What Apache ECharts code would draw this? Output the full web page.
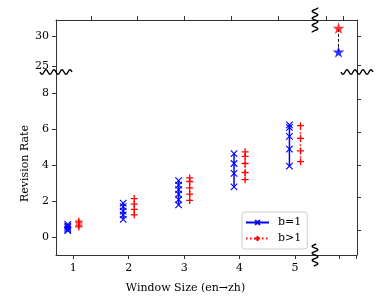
<!DOCTYPE html>
<html>
<head>
<meta charset="utf-8">
<script src="https://cdn.jsdelivr.net/npm/echarts@6/dist/echarts.min.js"></script>
<style>html,body{margin:0;padding:0;background:#fff}#c{width:376px;height:301px}</style>
</head>
<body>
<div id="c"></div>
<script>
// ---- data ----
const windowSizes = [1, 2, 3, 4, 5];
const b1Rates = [
  [0.38, 0.45, 0.55, 0.63, 0.72],
  [1.0, 1.25, 1.45, 1.7, 1.9],
  [1.8, 2.1, 2.4, 2.65, 2.9, 3.15],
  [2.8, 3.55, 4.1, 4.65],
  [3.95, 4.9, 5.6, 6.1, 6.25]
];
const bGt1Rates = [
  [0.58, 0.68, 0.8, 0.9],
  [1.25, 1.55, 1.85, 2.15],
  [2.05, 2.4, 2.75, 3.1, 3.3],
  [3.2, 3.6, 4.1, 4.5, 4.75],
  [4.2, 4.8, 5.5, 6.2]
];
const fullDocB1 = 27.45;
const fullDocBGt1 = 31.4;
const xTickLabels = [1, 2, 3, 4, 5];
const yTicksLow = [0, 2, 4, 6, 8];
const yTicksHigh = [25, 30];

// ---- style / layout ----
const FONT = 'DejaVu Serif';
const AX = '#333';
const X_PATH = 'path://M0,0L10,10M10,0L0,10';
const P_PATH = 'path://M5,0L5,10M0,5L10,5';
const STAR = 'path://M50,0L61,35L98,35L68,57L79,91L50,70L21,91L32,57L2,35L39,35Z';
const off = 0.1;
const xMin = 0.688, xMax = 5.361;
const lowMin = -0.98, lowMax = 9.18;
const highMin = 24.1, highMax = 32.74;
const starX = 0.56;

function axisBase(extra) {
  return Object.assign({
    type: 'value',
    splitLine: { show: false },
    axisLine: { show: true, onZero: false, lineStyle: { color: AX, width: 1 } },
    axisTick: { show: true, length: 4, lineStyle: { color: AX, width: 1 } },
    axisLabel: { show: false }
  }, extra);
}
function ticks(vals) {
  return { show: true, length: 4, lineStyle: { color: AX, width: 1 }, customValues: vals };
}
const labelStyle = { show: true, fontFamily: FONT, fontSize: 11, color: '#000' };

const series = [];
windowSizes.forEach((w, i) => {
  series.push({
    type: 'line', name: 'b=1', xAxisIndex: 2, yAxisIndex: 2,
    data: b1Rates[i].slice().sort((a, b) => a - b).map(v => [w - off, v]),
    symbol: X_PATH, symbolSize: 6.5, showAllSymbol: true,
    lineStyle: { color: '#0000ff', width: 1.5 },
    itemStyle: { color: '#0000ff', borderColor: '#0000ff', borderWidth: 1.1 },
    animation: false, z: 3
  });
  series.push({
    type: 'line', name: 'b>1', xAxisIndex: 2, yAxisIndex: 2,
    data: bGt1Rates[i].slice().sort((a, b) => a - b).map(v => [w + off, v]),
    symbol: P_PATH, symbolSize: 7, showAllSymbol: true,
    lineStyle: { color: '#ff0000', width: 1.5, type: [1.5, 2.5] },
    itemStyle: { color: '#ff0000', borderColor: '#ff0000', borderWidth: 1.3 },
    animation: false, z: 3
  });
});
series.push({
  type: 'line', name: 'full', xAxisIndex: 1, yAxisIndex: 1,
  data: [[starX, fullDocB1], [starX, fullDocBGt1]], symbol: 'none',
  lineStyle: { color: '#000', width: 1, type: [3, 2] }, animation: false, z: 2
});
series.push({
  type: 'scatter', name: 'fullB1', xAxisIndex: 1, yAxisIndex: 1,
  data: [[starX, fullDocB1]], symbol: STAR, symbolSize: 12,
  itemStyle: { color: '#0000ff' }, animation: false, z: 4
});
series.push({
  type: 'scatter', name: 'fullBGt1', xAxisIndex: 1, yAxisIndex: 1,
  data: [[starX, fullDocBGt1]], symbol: STAR, symbolSize: 12,
  itemStyle: { color: '#ff0000' }, animation: false, z: 4
});

function wave(cx, cy, len, amp, period, vertical) {
  const pts = [];
  const n = 60;
  for (let k = 0; k <= n; k++) {
    const t = -len / 2 + len * k / n;
    const d = amp * Math.sin(2 * Math.PI * t / period);
    pts.push(vertical ? [cx + d, cy + t] : [cx + t, cy + d]);
  }
  return { type: 'polyline', shape: { points: pts }, style: { stroke: '#000', lineWidth: 1.4, fill: null }, z: 100 };
}

const option = {
  animation: false,
  backgroundColor: '#fff',
  grid: [
    { left: 56, top: 20, width: 259, height: 52, outerBoundsMode: 'none' },
    { left: 315, top: 20, width: 42, height: 52, outerBoundsMode: 'none' },
    { left: 56, top: 72, width: 259, height: 183, outerBoundsMode: 'none' },
    { left: 315, top: 72, width: 42, height: 183, outerBoundsMode: 'none' }
  ],
  xAxis: [
    axisBase({ gridIndex: 0, position: 'top', min: xMin, max: xMax,
      axisTick: ticks([1.32, 2.16, 3.0, 3.85, 4.69]) }),
    axisBase({ gridIndex: 1, position: 'top', min: 0, max: 1,
      axisTick: ticks([0.262, 0.667]) }),
    axisBase({ gridIndex: 2, position: 'bottom', min: xMin, max: xMax,
      axisTick: ticks(xTickLabels),
      axisLabel: Object.assign({ customValues: xTickLabels, margin: 8 }, labelStyle),
      name: 'Window Size (en→zh)', nameLocation: 'middle', nameGap: 28,
      nameTextStyle: { fontFamily: FONT, fontSize: 11, color: '#000' } }),
    axisBase({ gridIndex: 3, position: 'bottom', min: 0, max: 1,
      axisTick: ticks([0.571, 0.976]) })
  ],
  yAxis: [
    axisBase({ gridIndex: 0, position: 'left', min: highMin, max: highMax,
      axisTick: ticks(yTicksHigh),
      axisLabel: Object.assign({ customValues: yTicksHigh, margin: 7 }, labelStyle) }),
    axisBase({ gridIndex: 1, position: 'right', min: highMin, max: highMax,
      axisTick: ticks([25.3, 30]) }),
    axisBase({ gridIndex: 2, position: 'left', min: lowMin, max: lowMax,
      axisTick: ticks(yTicksLow),
      axisLabel: Object.assign({ customValues: yTicksLow, margin: 7 }, labelStyle),
      name: 'Revision Rate', nameLocation: 'middle', nameGap: 25,
      nameTextStyle: { fontFamily: FONT, fontSize: 11, color: '#000' } }),
    axisBase({ gridIndex: 3, position: 'right', min: lowMin, max: lowMax,
      axisTick: ticks([0.37, 2.2, 4.02, 5.85, 7.67]) })
  ],
  legend: {
    data: ['b=1', 'b>1'],
    orient: 'vertical', left: 242, top: 212,
    itemWidth: 23, itemHeight: 6, itemGap: 3,
    padding: [4, 6, 4, 3],
    borderColor: '#ccc', borderWidth: 1, borderRadius: 3, backgroundColor: '#fff',
    textStyle: { fontFamily: FONT, fontSize: 11, color: '#000', lineHeight: 13, padding: [0, 0, 0, 4] }
  },
  graphic: [
    wave(56, 72, 32, 2.3, 8, false),
    wave(357, 72, 32, 2.3, 8, false),
    wave(315, 20, 25, 2.8, 7, true),
    wave(315, 255, 22, 2.8, 7, true)
  ],
  series: series
};
const chart = echarts.init(document.getElementById('c'), null, { renderer: 'canvas' });
chart.setOption(option);
</script>
</body>
</html>
